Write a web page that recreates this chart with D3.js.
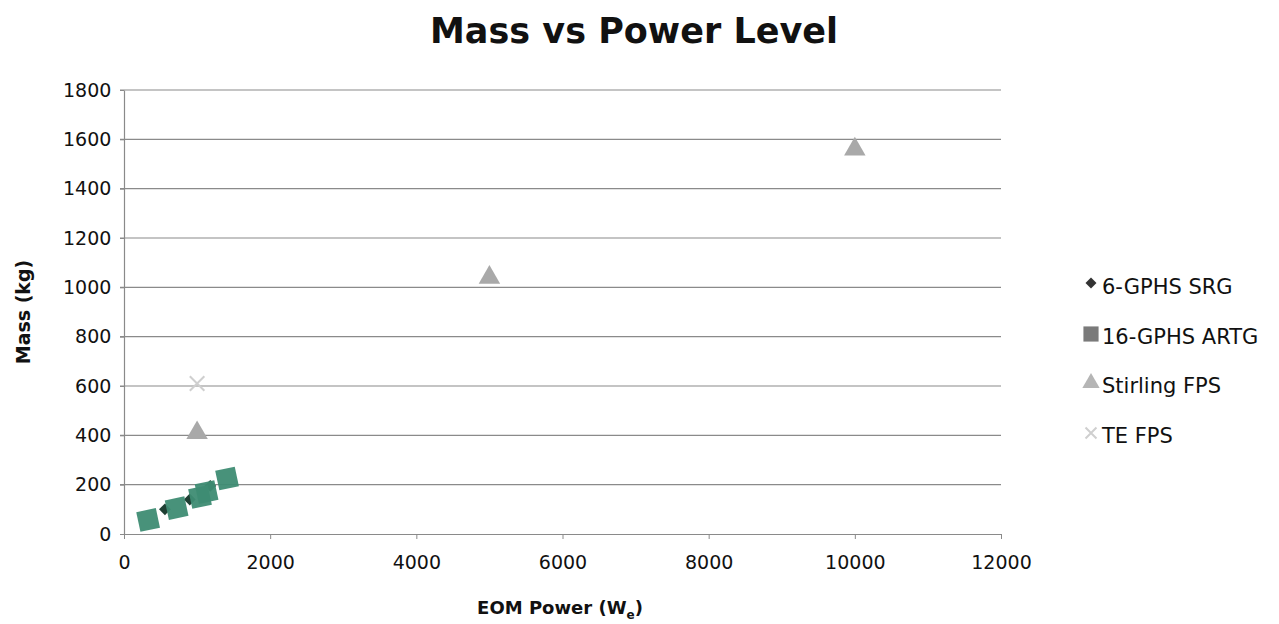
<!DOCTYPE html>
<html>
<head>
<meta charset="utf-8">
<script src="https://cdn.jsdelivr.net/npm/d3@7"></script>
<style>
  body { margin: 0; background: #fff; }
  text { font-family: "DejaVu Sans", Lato, sans-serif; fill: #111; }
</style>
</head>
<body>
<div id="chart"></div>
<script>
// series data (EOM power W, mass kg)
const srgPower = [560, 900, 1180];
const srgMass = [100, 140, 195];
const artgPower = [330, 720, 1040, 1130, 1410];
const artgMass = [57, 105, 150, 170, 225];
const stirlingPower = [1000, 5000, 10000];
const stirlingMass = [410, 1040, 1560];
const tePower = [1000];
const teMass = [610];

const xTicks = [0, 2000, 4000, 6000, 8000, 10000, 12000];
const yTicks = [0, 200, 400, 600, 800, 1000, 1200, 1400, 1600, 1800];

const seriesNames = ["6-GPHS SRG", "16-GPHS ARTG", "Stirling FPS", "TE FPS"];

const width = 1279, height = 624;
const margin = { top: 90, right: 278, bottom: 90, left: 124 };

const svg = d3.select('#chart').append('svg')
  .attr('width', width).attr('height', height);

const x = d3.scaleLinear().domain([0, 12000]).range([margin.left, width - margin.right]);
const y = d3.scaleLinear().domain([0, 1800]).range([height - margin.bottom, margin.top]);

// gridlines
svg.append('g').selectAll('line')
  .data(yTicks.filter(d => d > 0))
  .join('line')
  .attr('x1', x(0) - 4).attr('x2', x(12000))
  .attr('y1', d => y(d)).attr('y2', d => y(d))
  .attr('stroke', '#8a8a8a').attr('stroke-width', 1.2);

// axes
const xAxis = d3.axisBottom(x).tickValues(xTicks).tickSize(5).tickSizeOuter(0).tickFormat(d3.format('d'));
const yAxis = d3.axisLeft(y).tickValues(yTicks).tickSize(4).tickSizeOuter(0).tickFormat(d3.format('d'));

const gx = svg.append('g').attr('transform', `translate(0,${y(0)})`).call(xAxis);
const gy = svg.append('g').attr('transform', `translate(${x(0)},0)`).call(yAxis);

[gx, gy].forEach(g => {
  g.select('.domain').attr('stroke', '#8a8a8a').attr('stroke-width', 1.2);
  g.selectAll('.tick line').attr('stroke', '#8a8a8a');
  g.selectAll('text').style('font-size', '19px').attr('fill', '#111');
});
gx.selectAll('text').attr('dy', '1.4em');
gy.selectAll('text').attr('dx', '-0.3em');

// titles
svg.append('text')
  .attr('x', 634).attr('y', 43)
  .attr('text-anchor', 'middle')
  .style('font-size', '35px').style('font-weight', 'bold')
  .text('Mass vs Power Level');

const xt = svg.append('text')
  .attr('x', 560).attr('y', 614)
  .attr('text-anchor', 'middle')
  .style('font-size', '18px').style('font-weight', 'bold');
xt.append('tspan').text('EOM Power (W');
xt.append('tspan').attr('dy', 5).style('font-size', '12px').text('e');
xt.append('tspan').attr('dy', -5).text(')');

svg.append('text')
  .attr('transform', `translate(30,${(y(0) + y(1800)) / 2}) rotate(-90)`)
  .attr('text-anchor', 'middle')
  .style('font-size', '19px').style('font-weight', 'bold')
  .text('Mass (kg)');

// marks
const plot = svg.append('g');

const triangle = d3.symbol().type(d3.symbolTriangle).size(200);
const cross = d3.symbol().type(d3.symbolX).size(140);

plot.selectAll('.te')
  .data(tePower.map((p, i) => [p, teMass[i]]))
  .join('path')
  .attr('transform', d => `translate(${x(d[0])},${y(d[1])})`)
  .attr('d', cross)
  .attr('fill', 'none').attr('stroke', '#cfcfcf').attr('stroke-width', 2);

plot.selectAll('.stir')
  .data(stirlingPower.map((p, i) => [p, stirlingMass[i]]))
  .join('path')
  .attr('transform', d => `translate(${x(d[0])},${y(d[1])})`)
  .attr('d', triangle)
  .attr('fill', '#a9a9a9');

plot.selectAll('.srg')
  .data(srgPower.map((p, i) => [p, srgMass[i]]))
  .join('path')
  .attr('transform', d => `translate(${x(d[0])},${y(d[1])}) rotate(45)`)
  .attr('d', d3.symbol().type(d3.symbolSquare).size(70))
  .attr('fill', '#1f3f33');

plot.selectAll('.artg')
  .data(artgPower.map((p, i) => [p, artgMass[i]]))
  .join('rect')
  .attr('x', d => x(d[0]) - 10).attr('y', d => y(d[1]) - 10)
  .attr('width', 20).attr('height', 20)
  .attr('fill', '#3e8c73').attr('opacity', 0.95)
  .attr('transform', d => `rotate(-12,${x(d[0])},${y(d[1])})`);

// legend
const legend = svg.append('g');
const rowsY = [288, 338, 387, 437];
const legendItems = legend.selectAll('g')
  .data(seriesNames)
  .join('g')
  .attr('transform', (d, i) => `translate(1091,${rowsY[i]})`);

legendItems.append('path')
  .attr('d', (d, i) => {
    if (i === 0) return d3.symbol().type(d3.symbolSquare).size(60)();
    if (i === 1) return d3.symbol().type(d3.symbolSquare).size(230)();
    if (i === 2) return d3.symbol().type(d3.symbolTriangle).size(130)();
    return d3.symbol().type(d3.symbolX).size(80)();
  })
  .attr('transform', (d, i) => i === 0 ? 'translate(0,-5) rotate(45)' : 'translate(0,-4)')
  .attr('fill', (d, i) => ['#333', '#7a7a7a', '#b5b5b5', 'none'][i])
  .attr('stroke', (d, i) => i === 3 ? '#cfcfcf' : 'none')
  .attr('stroke-width', 2);

legendItems.append('text')
  .attr('x', 11).attr('y', 6)
  .style('font-size', '21px')
  .text(d => d);
</script>
</body>
</html>
